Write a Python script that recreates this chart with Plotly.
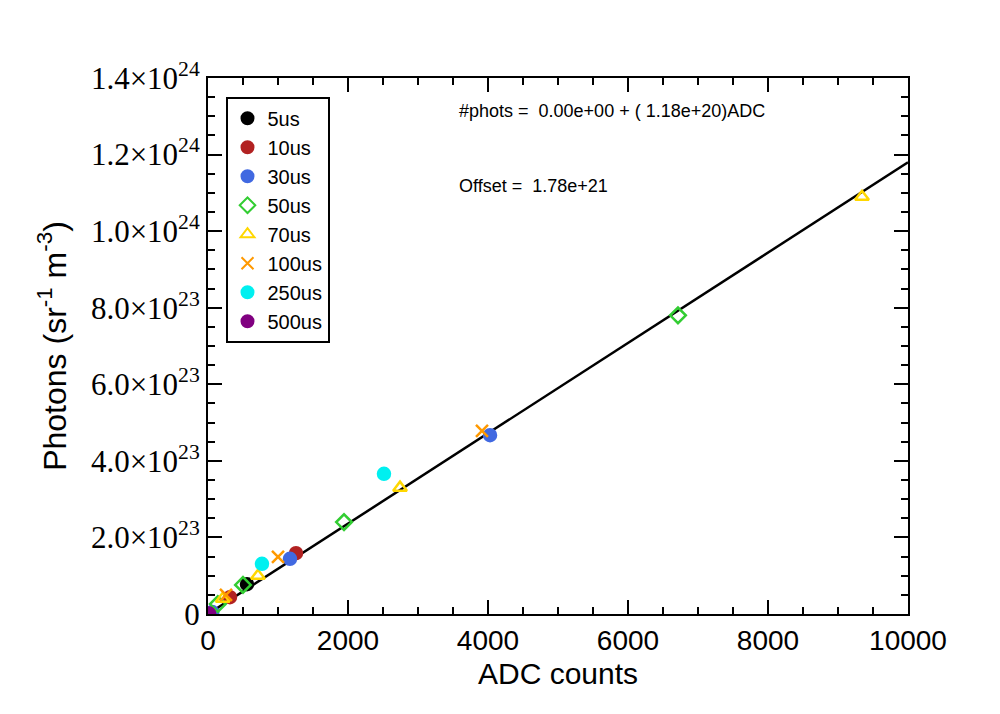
import plotly.graph_objects as go

# counts / photons per exposure time
series = {
    '5us':   ([557], [0.78e23]),
    '10us':  ([1257, 314], [1.59e23, 0.44e23]),
    '30us':  ([4029, 1171, 60], [4.67e23, 1.44e23, 0.05e23]),
    '50us':  ([6714, 1943, 500, 140], [7.8e23, 2.4e23, 0.76e23, 0.26e23]),
    '70us':  ([9343, 2743, 714, 210], [1.09e24, 3.3e23, 1.0e23, 0.4e23]),
    '100us': ([3914, 1000, 257], [4.78e23, 1.49e23, 0.5e23]),
    '250us': ([2514, 771], [3.66e23, 1.31e23]),
    '500us': ([15], [0.01e23]),
}
styles = {
    '5us':   ('circle', '#000000'),
    '10us':  ('circle', '#b22222'),
    '30us':  ('circle', '#4169e1'),
    '50us':  ('diamond-open', '#32cd32'),
    '70us':  ('triangle-up-open', '#ffd700'),
    '100us': ('x-thin-open', '#ff9900'),
    '250us': ('circle', '#00f0f0'),
    '500us': ('circle', '#800080'),
}
slope = 1.18e20
fit_x = [0, 10000]

y_ticks = [0, 2e23, 4e23, 6e23, 8e23, 1e24, 1.2e24, 1.4e24]
y_labels = ['0', '2.0×10<sup>23</sup>', '4.0×10<sup>23</sup>', '6.0×10<sup>23</sup>',
            '8.0×10<sup>23</sup>', '1.0×10<sup>24</sup>', '1.2×10<sup>24</sup>',
            '1.4×10<sup>24</sup>']

fig = go.Figure()
fig.add_trace(go.Scatter(x=fit_x, y=[slope * v for v in fit_x], mode='lines',
                         line=dict(color='black', width=2.5), showlegend=False))
for name, (xs, ys) in series.items():
    sym, col = styles[name]
    fig.add_trace(go.Scatter(
        x=xs, y=ys, mode='markers', name=name,
        marker=dict(symbol=sym, color=col, size=12,
                    line=dict(color=col, width=2.5))))

fig.add_annotation(x=0.355, y=0.96, xref='paper', yref='paper', xanchor='left',
                   text='#phots =  0.00e+00 + ( 1.18e+20)ADC', showarrow=False,
                   font=dict(size=18, color='black'))
fig.add_annotation(x=0.355, y=0.82, xref='paper', yref='paper', xanchor='left',
                   text='Offset =  1.78e+21', showarrow=False,
                   font=dict(size=18, color='black'))

axis_common = dict(showline=True, linecolor='black', linewidth=2, mirror='allticks',
                   ticks='inside', ticklen=14, tickwidth=2, tickcolor='black',
                   showgrid=False, zeroline=False)
fig.update_xaxes(range=[0, 10000], dtick=2000, tickformat='d', title_text='ADC counts',
                 title_font=dict(size=30), tickfont=dict(size=28), title_standoff=8,
                 minor=dict(dtick=500, ticks='inside', ticklen=7, tickwidth=2,
                            tickcolor='black'), **axis_common)
fig.update_yaxes(range=[0, 1.4e24], tickvals=y_ticks, ticktext=y_labels,
                 title_text='Photons (sr<sup>-1</sup> m<sup>-3</sup>)',
                 title_font=dict(size=32, family='Liberation Sans'),
                 tickfont=dict(size=31, family='Liberation Serif'),
                 minor=dict(dtick=5e22, ticks='inside', ticklen=7, tickwidth=2,
                            tickcolor='black'), **axis_common)
fig.update_layout(
    width=1000, height=714, plot_bgcolor='white', paper_bgcolor='white',
    margin=dict(l=200, r=100, t=70, b=108, pad=0),
    font=dict(family='Liberation Sans', color='black'),
    legend=dict(x=0.025, y=0.965, xanchor='left', yanchor='top',
                bordercolor='black', borderwidth=2, font=dict(size=20),
                tracegroupgap=0, itemsizing='constant'),
)
fig.write_html('out.html')
